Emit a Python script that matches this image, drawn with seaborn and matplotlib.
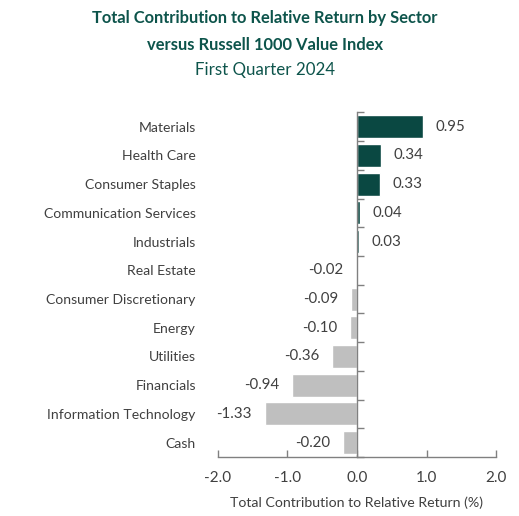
import matplotlib
matplotlib.use("Agg")
import matplotlib.pyplot as plt
import seaborn as sns
import pandas as pd
import numpy as np
from matplotlib.ticker import FixedLocator

sectors = ["Materials", "Health Care", "Consumer Staples", "Communication Services",
           "Industrials", "Real Estate", "Consumer Discretionary", "Energy",
           "Utilities", "Financials", "Information Technology", "Cash"]
values = [0.95, 0.34, 0.33, 0.04, 0.03, -0.02, -0.09, -0.10, -0.36, -0.94, -1.33, -0.20]
x_ticks = [-2.0, -1.0, 0.0, 1.0, 2.0]

GREEN = "#00524a"
GRAY = "#bfbfbf"
TEXT = "#404040"
TITLE = "#0d544b"

sns.set_theme(style="white")
plt.rcParams["font.family"] = ["Lato", "DejaVu Sans"]

df = pd.DataFrame({"sector": sectors, "value": values})
df["sign"] = np.where(df["value"] >= 0, "pos", "neg")

fig = plt.figure(figsize=(5.19, 5.16), dpi=100)
ax = fig.add_axes([0.42, 0.1143, 0.5357, 0.668])

sns.barplot(data=df, x="value", y="sector", hue="sign", order=sectors,
            palette={"pos": GREEN, "neg": GRAY}, width=0.8, dodge=False,
            legend=False, ax=ax, orient="h")

for cont in ax.containers:
    ax.bar_label(cont, labels=[f"{v:.2f}" if not np.isnan(v) else "" for v in cont.datavalues],
                 padding=9, fontsize=10.8, color=TEXT)

ax.set_xlim(-2, 2)
ax.set_ylim(len(sectors) - 0.5, -0.5)
ax.set_xticks(x_ticks)
ax.set_xticklabels([f"{t:.1f}" for t in x_ticks])
ax.set_xlabel("Total Contribution to Relative Return (%)", fontsize=10.2, color=TEXT, labelpad=8)
ax.set_ylabel("")

ax.set_yticks(range(len(sectors)))
ax.set_yticklabels(sectors)
ax.yaxis.set_minor_locator(FixedLocator(np.arange(-0.5, len(sectors), 1.0)))
ax.tick_params(axis="y", which="major", length=0, pad=16, left=False, right=False,
               labelsize=10.1, labelcolor=TEXT)
ax.tick_params(axis="y", which="minor", left=False, right=True, direction="out",
               length=5, width=1, color="#808080")
ax.tick_params(axis="x", which="major", bottom=True, direction="in", length=5,
               width=1, color="#808080", pad=10, labelsize=11, labelcolor=TEXT)

for s in ["top", "left"]:
    ax.spines[s].set_visible(False)
ax.spines["right"].set_position(("data", 0))
ax.spines["right"].set_color("#808080")
ax.spines["bottom"].set_color("#808080")
ax.spines["right"].set_linewidth(1)
ax.spines["bottom"].set_linewidth(1)

fig.text(0.51, 0.965, "Total Contribution to Relative Return by Sector",
         ha="center", va="center", fontsize=11.9, fontweight="bold", color=TITLE)
fig.text(0.51, 0.913, "versus Russell 1000 Value Index",
         ha="center", va="center", fontsize=11.9, fontweight="bold", color=TITLE)
fig.text(0.51, 0.864, "First Quarter 2024",
         ha="center", va="center", fontsize=12.2, color=TITLE)

fig.savefig("out.png", dpi=100)
